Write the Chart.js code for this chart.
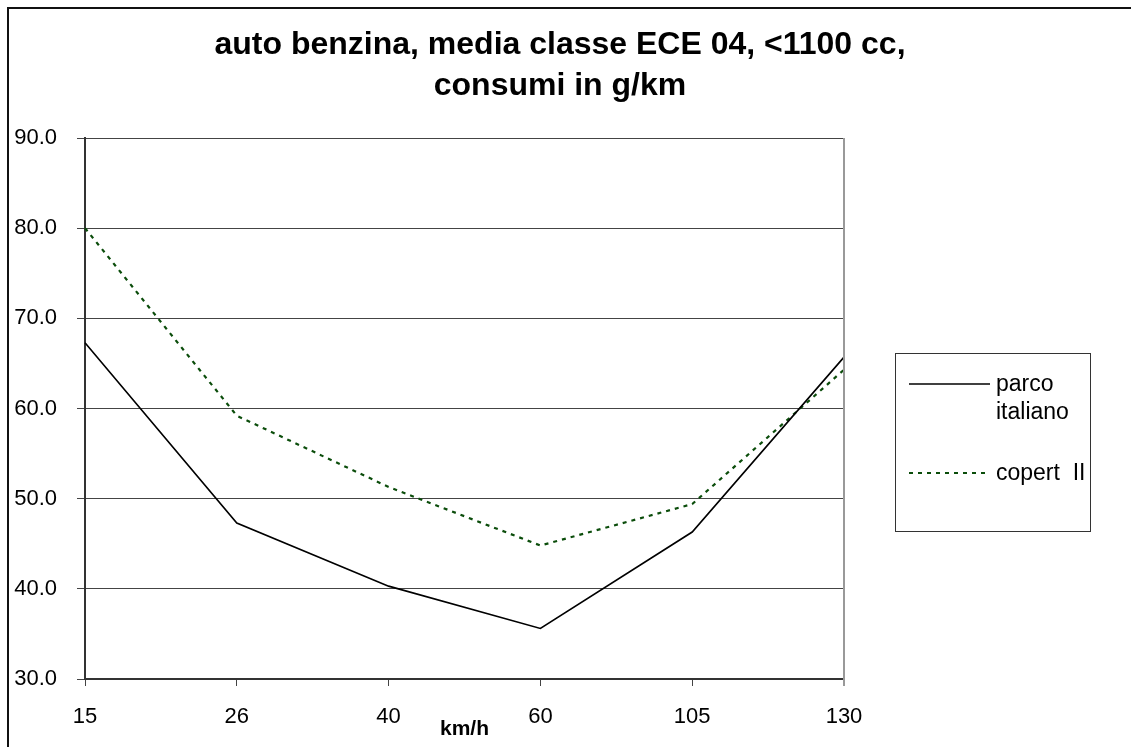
<!DOCTYPE html>
<html>
<head>
<meta charset="utf-8">
<script src="https://cdn.jsdelivr.net/npm/chart.js@4"></script>
<style>
  html, body { margin: 0; padding: 0; background: #fff; }
  #wrap { width: 1131px; height: 747px; position: relative; }
</style>
</head>
<body>
<div id="wrap"><canvas id="grafico" width="1131" height="747"></canvas></div>
<script>
const velocita = ["15", "26", "40", "60", "105", "130"];
const parcoItaliano = [67.3, 47.3, 40.3, 35.6, 46.3, 65.7];
const copertII = [80.0, 59.2, 51.3, 44.8, 49.4, 64.3];
const titolo = ["auto benzina, media classe ECE 04, <1100 cc,", "consumi in g/km"];
const titoloAsseX = "km/h";
const legendaParco = ["parco", "italiano"];
const legendaCopert = ["copert  II"];
const Y_MIN = 30, Y_MAX = 90, Y_STEP = 10;

const FONT = "'Liberation Sans', Arial, sans-serif";
const VERDE = "#0b4d0b";

function byId(id){ return document.getElementById(id) }

// titolo, bordo esterno, legenda: disegnati a mano come nell'originale Excel
function decorPlugin() {
  return {
    id: "decor",
    afterDraw(c) {
      const ctx = c.ctx;
      const a = c.chartArea;
      ctx.save();

      // bordo esterno (solo alto e sinistra visibili)
      ctx.strokeStyle = "#111";
      ctx.lineWidth = 2;
      ctx.beginPath();
      ctx.moveTo(8, 747);
      ctx.lineTo(8, 8);
      ctx.lineTo(1131, 8);
      ctx.stroke();

      // linea destra dell'area grafico
      ctx.strokeStyle = "#999";
      ctx.lineWidth = 2;
      ctx.beginPath();
      ctx.moveTo(a.right, a.top);
      ctx.lineTo(a.right, a.bottom + 7);
      ctx.stroke();

      // titolo
      ctx.fillStyle = "#000";
      ctx.textAlign = "center";
      ctx.textBaseline = "alphabetic";
      ctx.font = `bold 32px ${FONT}`;
      ctx.fillText(titolo[0], 560, 54);
      ctx.fillText(titolo[1], 560, 95);

      // titolo asse x
      ctx.textBaseline = "middle";
      ctx.font = `bold 21px ${FONT}`;
      ctx.fillText(titoloAsseX, (a.left + a.right) / 2, 729);

      // legenda
      const lx = 895.5, ly = 353.5, lw = 195, lh = 178;
      ctx.fillStyle = "#fff";
      ctx.fillRect(lx, ly, lw, lh);
      ctx.strokeStyle = "#333";
      ctx.lineWidth = 1;
      ctx.strokeRect(lx, ly, lw, lh);

      ctx.font = `23px ${FONT}`;
      ctx.textAlign = "left";
      ctx.fillStyle = "#000";

      const ds = c.data.datasets;
      ctx.strokeStyle = ds[0].borderColor;
      ctx.lineWidth = ds[0].borderWidth;
      ctx.setLineDash([]);
      ctx.beginPath(); ctx.moveTo(909, 384); ctx.lineTo(990, 384); ctx.stroke();
      legendaParco.forEach((t, i) => ctx.fillText(t, 996, 385 + i * 28));

      ctx.strokeStyle = ds[1].borderColor;
      ctx.lineWidth = ds[1].borderWidth;
      ctx.setLineDash(ds[1].borderDash);
      ctx.beginPath(); ctx.moveTo(909, 473); ctx.lineTo(990, 473); ctx.stroke();
      ctx.setLineDash([]);
      legendaCopert.forEach((t, i) => ctx.fillText(t, 996, 474 + i * 28));

      ctx.restore();
    }
  };
}

new Chart(byId("grafico"), {
  type: "line",
  data: {
    labels: velocita,
    datasets: [
      {
        label: legendaParco.join(" "),
        data: parcoItaliano,
        borderColor: "#000",
        borderWidth: 1.6,
        pointRadius: 0,
        tension: 0,
        fill: false
      },
      {
        label: legendaCopert.join(" "),
        data: copertII,
        borderColor: VERDE,
        borderWidth: 2.2,
        borderDash: [4, 5],
        pointRadius: 0,
        tension: 0,
        fill: false
      }
    ]
  },
  options: {
    responsive: false,
    animation: false,
    layout: { padding: { top: 138, right: 287, bottom: 0, left: 0 } },
    plugins: {
      legend: { display: false },
      title: { display: false },
      tooltip: { enabled: false }
    },
    scales: {
      x: {
        offset: false,
        afterFit(s) { s.height = 68 },
        grid: { drawOnChartArea: false, drawTicks: true, tickLength: 7, color: "#444", lineWidth: 1 },
        border: { display: true, color: "#333", width: 2 },
        ticks: { color: "#000", font: { family: FONT, size: 22 }, padding: 18, maxRotation: 0, autoSkip: false }
      },
      y: {
        min: Y_MIN,
        max: Y_MAX,
        afterFit(s) { s.width = 85 },
        grid: { color: "#444", lineWidth: 1, tickLength: 8 },
        border: { display: true, color: "#333", width: 2 },
        ticks: {
          stepSize: Y_STEP,
          color: "#000",
          padding: 20,
          font: { family: FONT, size: 22 },
          callback: v => Number(v).toFixed(1)
        }
      }
    }
  },
  plugins: [decorPlugin()]
});
</script>
</body>
</html>
